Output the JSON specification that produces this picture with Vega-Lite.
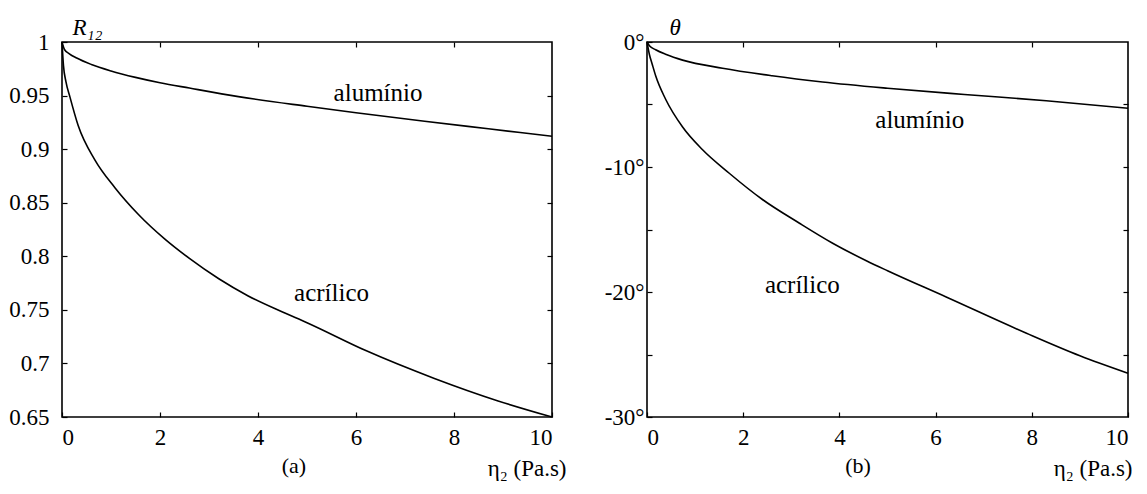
{
  "$schema": "https://vega.github.io/schema/vega-lite/v6.json",
  "autosize": {"type": "pad"},
  "padding": {"left": 7, "top": 15, "right": 0, "bottom": 0},
  "background": "white",
  "bounds": "flush",
  "spacing": 95,
  "datasets": {
    "a": [
      {"material": "alumínio", "eta": 0, "value": 1},
      {"material": "alumínio", "eta": 0.05, "value": 0.993},
      {"material": "alumínio", "eta": 0.15, "value": 0.989},
      {"material": "alumínio", "eta": 0.3, "value": 0.985},
      {"material": "alumínio", "eta": 0.6, "value": 0.979},
      {"material": "alumínio", "eta": 1, "value": 0.973},
      {"material": "alumínio", "eta": 1.5, "value": 0.967},
      {"material": "alumínio", "eta": 2, "value": 0.962},
      {"material": "alumínio", "eta": 2.6, "value": 0.957},
      {"material": "alumínio", "eta": 3.6, "value": 0.949},
      {"material": "alumínio", "eta": 5, "value": 0.94},
      {"material": "alumínio", "eta": 6, "value": 0.934},
      {"material": "alumínio", "eta": 7.4, "value": 0.926},
      {"material": "alumínio", "eta": 8.7, "value": 0.919},
      {"material": "alumínio", "eta": 10, "value": 0.912},
      {"material": "acrílico", "eta": 0, "value": 1},
      {"material": "acrílico", "eta": 0.03, "value": 0.978},
      {"material": "acrílico", "eta": 0.08, "value": 0.963},
      {"material": "acrílico", "eta": 0.16, "value": 0.949},
      {"material": "acrílico", "eta": 0.33, "value": 0.922},
      {"material": "acrílico", "eta": 0.67, "value": 0.89},
      {"material": "acrílico", "eta": 1.08, "value": 0.864},
      {"material": "acrílico", "eta": 1.56, "value": 0.839},
      {"material": "acrílico", "eta": 2.1, "value": 0.816},
      {"material": "acrílico", "eta": 2.6, "value": 0.798},
      {"material": "acrílico", "eta": 3.2, "value": 0.779},
      {"material": "acrílico", "eta": 3.8, "value": 0.763},
      {"material": "acrílico", "eta": 4.5, "value": 0.748},
      {"material": "acrílico", "eta": 5, "value": 0.738},
      {"material": "acrílico", "eta": 6.2, "value": 0.712},
      {"material": "acrílico", "eta": 7.6, "value": 0.686},
      {"material": "acrílico", "eta": 8.9, "value": 0.665},
      {"material": "acrílico", "eta": 10, "value": 0.65}
    ],
    "b": [
      {"material": "alumínio", "eta": 0, "value": 0},
      {"material": "alumínio", "eta": 0.05, "value": -0.3},
      {"material": "alumínio", "eta": 0.18, "value": -0.62},
      {"material": "alumínio", "eta": 0.4, "value": -1.0},
      {"material": "alumínio", "eta": 0.74, "value": -1.45},
      {"material": "alumínio", "eta": 1.57, "value": -2.1},
      {"material": "alumínio", "eta": 2.6, "value": -2.7},
      {"material": "alumínio", "eta": 3.65, "value": -3.2},
      {"material": "alumínio", "eta": 5, "value": -3.7},
      {"material": "alumínio", "eta": 6.6, "value": -4.2},
      {"material": "alumínio", "eta": 8.3, "value": -4.7},
      {"material": "alumínio", "eta": 10, "value": -5.3},
      {"material": "acrílico", "eta": 0, "value": 0},
      {"material": "acrílico", "eta": 0.05, "value": -1.0},
      {"material": "acrílico", "eta": 0.11, "value": -1.8},
      {"material": "acrílico", "eta": 0.18, "value": -2.7},
      {"material": "acrílico", "eta": 0.39, "value": -4.6},
      {"material": "acrílico", "eta": 0.74, "value": -6.8},
      {"material": "acrílico", "eta": 1.15, "value": -8.6},
      {"material": "acrílico", "eta": 1.71, "value": -10.5},
      {"material": "acrílico", "eta": 2.4, "value": -12.6},
      {"material": "acrílico", "eta": 3.17, "value": -14.5},
      {"material": "acrílico", "eta": 3.86, "value": -16.1},
      {"material": "acrílico", "eta": 4.56, "value": -17.5},
      {"material": "acrílico", "eta": 5, "value": -18.3},
      {"material": "acrílico", "eta": 6.22, "value": -20.4},
      {"material": "acrílico", "eta": 7.89, "value": -23.3},
      {"material": "acrílico", "eta": 9, "value": -25.1},
      {"material": "acrílico", "eta": 10, "value": -26.5}
    ],
    "labelsA": [
      {"eta": 6.45, "value": 0.9525, "label": "alumínio"},
      {"eta": 5.5, "value": 0.766, "label": "acrílico"}
    ],
    "labelsB": [
      {"eta": 5.67, "value": -6.2, "label": "alumínio"},
      {"eta": 3.23, "value": -19.4, "label": "acrílico"}
    ]
  },
  "hconcat": [
    {
      "width": 490,
      "height": 375,
      "title": {"text": "(a)", "orient": "bottom", "anchor": "start", "dx": 273, "offset": -24, "font": "Liberation Serif, Times New Roman, DejaVu Serif, serif", "fontSize": 22, "fontWeight": "normal", "color": "black"},
      "layer": [
        {
          "data": {"name": "a"},
          "mark": {"type": "line", "color": "black", "strokeWidth": 1.6, "interpolate": "monotone"},
          "encoding": {
            "x": {"field": "eta", "type": "quantitative", "scale": {"domain": [0, 10], "nice": false},
              "axis": {"orient": "bottom", "values": [0, 2, 4, 6, 8, 10], "title": "η₂ (Pa.s)", "titleAnchor": "end", "titleAlign": "right", "titleX": 504, "titleY": 58, "titleBaseline": "alphabetic", "labelPadding": 14}},
            "y": {"field": "value", "type": "quantitative", "scale": {"domain": [0.65, 1], "nice": false, "zero": false},
              "axis": {"orient": "left", "values": [0.65, 0.7, 0.75, 0.8, 0.85, 0.9, 0.95, 1], "format": "~g", "title": "R₁₂", "titleAngle": 0, "titleAlign": "left", "titleX": 10, "titleY": -8, "titleBaseline": "alphabetic", "titleFontStyle": "italic", "labelPadding": 18}},
            "detail": {"field": "material"}
          }
        },
        {
          "data": {"name": "labelsA"},
          "mark": {"type": "text", "font": "Liberation Serif, Times New Roman, DejaVu Serif, serif", "fontSize": 25, "color": "black", "align": "center", "baseline": "middle"},
          "encoding": {
            "x": {"field": "eta", "type": "quantitative", "axis": {"orient": "top", "values": [2, 4, 6, 8], "labels": false, "title": null}},
            "y": {"field": "value", "type": "quantitative", "axis": {"orient": "right", "values": [0.7, 0.75, 0.8, 0.85, 0.9, 0.95], "labels": false, "title": null}},
            "text": {"field": "label"}
          }
        }
      ]
    },
    {
      "width": 481,
      "height": 375,
      "title": {"text": "(b)", "orient": "bottom", "anchor": "start", "dx": 241, "offset": -24, "font": "Liberation Serif, Times New Roman, DejaVu Serif, serif", "fontSize": 22, "fontWeight": "normal", "color": "black"},
      "layer": [
        {
          "data": {"name": "b"},
          "mark": {"type": "line", "color": "black", "strokeWidth": 1.6, "interpolate": "monotone"},
          "encoding": {
            "x": {"field": "eta", "type": "quantitative", "scale": {"domain": [0, 10], "nice": false},
              "axis": {"orient": "bottom", "values": [0, 2, 4, 6, 8, 10], "title": "η₂ (Pa.s)", "titleAnchor": "end", "titleAlign": "right", "titleX": 485, "titleY": 58, "titleBaseline": "alphabetic", "labelPadding": 14}},
            "y": {"field": "value", "type": "quantitative", "scale": {"domain": [-30, 0], "nice": false, "zero": false},
              "axis": {"orient": "left", "values": [-30, -25, -20, -15, -10, -5, 0], "labelExpr": "datum.value % 10 === 0 ? datum.value + '°' : ''", "title": "θ", "titleAngle": 0, "titleAlign": "left", "titleX": 22, "titleY": -8, "titleBaseline": "alphabetic", "titleFontStyle": "italic", "labelPadding": 8}},
            "detail": {"field": "material"}
          }
        },
        {
          "data": {"name": "labelsB"},
          "mark": {"type": "text", "font": "Liberation Serif, Times New Roman, DejaVu Serif, serif", "fontSize": 25, "color": "black", "align": "center", "baseline": "middle"},
          "encoding": {
            "x": {"field": "eta", "type": "quantitative", "axis": {"orient": "top", "values": [2, 4, 6, 8], "labels": false, "title": null}},
            "y": {"field": "value", "type": "quantitative", "axis": {"orient": "right", "values": [-25, -20, -15, -10, -5], "labels": false, "title": null}},
            "text": {"field": "label"}
          }
        }
      ]
    }
  ],
  "config": {
    "view": {"stroke": "black", "strokeWidth": 1.6},
    "axis": {"domain": false, "grid": false, "tickColor": "black", "tickSize": -5, "tickWidth": 1.2,
      "labelFont": "Liberation Serif, Times New Roman, DejaVu Serif, serif", "labelFontSize": 23, "labelColor": "black",
      "titleFont": "Liberation Serif, Times New Roman, DejaVu Serif, serif", "titleFontSize": 23, "titleColor": "black", "titleFontWeight": "normal"}
  }
}
